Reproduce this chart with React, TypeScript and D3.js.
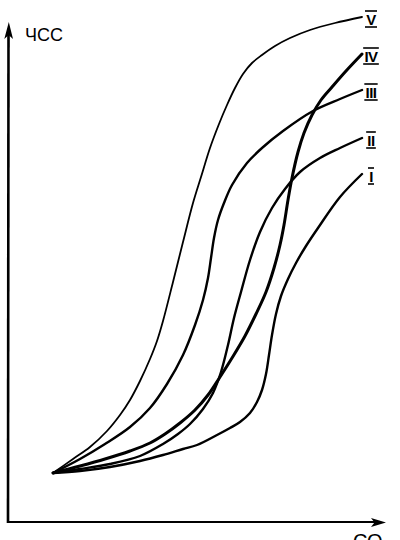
import React, { useEffect, useRef } from 'react';
import * as d3 from 'd3';

const W = 400;
const H = 540;

// Curves (arbitrary units: CO on x, ЧСС on y)
const curveI: [number, number][] = [
  [11.25, 9.8], [18, 10.2], [25.5, 11.0], [33, 12.2], [38.75, 13.4], [43.75, 14.6],
  [47.25, 15.4], [52.25, 17.4], [55.5, 18.8], [58, 20.0], [60.5, 21.8], [62.25, 24.0],
  [63.5, 26.4], [64.5, 29.6], [65.25, 33.4], [66, 37.4], [67, 41.6], [68.25, 45.2],
  [70, 48.6], [72, 51.8], [74.5, 55.2], [77.5, 58.8], [83, 65.0], [88.5, 69.6],
];
const curveII: [number, number][] = [
  [11.25, 9.8], [18, 10.6], [25.5, 11.6], [33, 13.2], [38.75, 15.6], [42.5, 17.6],
  [45.5, 19.6], [48.75, 22.6], [51.25, 25.8], [53.25, 30.0], [55, 35.4], [56.5, 40.8],
  [58.25, 46.0], [60.5, 52.4], [63, 58.0], [66, 62.8], [69.25, 66.6], [73, 70.0],
  [78, 72.8], [83, 74.8], [88.5, 76.8],
];
const curveIII: [number, number][] = [
  [11.25, 9.8], [18, 12.6], [24.25, 15.6], [30.5, 19.0], [35.5, 22.8], [39.75, 27.6],
  [43.75, 33.4], [46.75, 39.4], [48.75, 44.4], [50, 48.8], [50.75, 52.8], [51.5, 56.8],
  [52.5, 60.4], [54, 63.8], [56, 67.4], [59.75, 71.8], [63.5, 74.8], [68.75, 78.2],
  [76.25, 82.2], [83, 84.6], [88.5, 86.4],
];
const curveIV: [number, number][] = [
  [11.25, 9.8], [18, 11.2], [24.25, 12.6], [30.5, 14.2], [35.5, 15.8], [39.25, 17.6],
  [43, 19.8], [46.75, 22.4], [50, 25.4], [53, 29.0], [56, 32.8], [59.25, 37.2],
  [62, 41.6], [64.5, 46.0], [66.5, 50.8], [68, 55.4], [69, 59.4], [70, 64.4],
  [71, 68.8], [72.5, 74.0], [74, 77.8], [76, 81.4], [78.25, 84.4], [81, 87.0],
  [84.5, 90.2], [88.5, 93.6],
];
const curveV: [number, number][] = [
  [11.25, 9.8], [16.25, 12.6], [20.5, 15.0], [24.75, 18.2], [28, 21.4], [30.5, 24.4],
  [33, 28.2], [35.5, 32.6], [37.25, 36.2], [38.75, 40.2], [41.25, 48.0], [43.75, 56.0],
  [46.25, 63.8], [48.25, 69.0], [50.5, 74.8], [52.75, 79.6], [54.75, 83.4], [56.75, 86.8],
  [58.75, 89.6], [61, 91.8], [63.5, 93.4], [66.75, 95.2], [70.5, 96.8], [75.5, 98.4],
  [81.75, 99.8], [88.5, 101.0],
];

const seriesNames = ['I', 'II', 'III', 'IV', 'V'];
const seriesData = [curveI, curveII, curveIII, curveIV, curveV];
const seriesWidths = [2.4, 2.4, 2.4, 3.0, 1.8];
const yAxisTitle = 'ЧСС';
const xAxisTitle = 'СО';

export default function App() {
  const ref = useRef<SVGSVGElement>(null);

  useEffect(() => {
    const svg = d3.select(ref.current);
    svg.selectAll('*').remove();

    const x = d3.scaleLinear().domain([0, 100]).range([8, 408]);
    const y = d3.scaleLinear().domain([0, 100]).range([522, 22]);

    svg.append('rect').attr('width', W).attr('height', H).attr('fill', '#fff');

    // axes
    svg.append('line')
      .attr('x1', x(0)).attr('y1', y(0) + 1)
      .attr('x2', x(0) + 0.5).attr('y2', 32)
      .attr('stroke', '#000').attr('stroke-width', 2.6);
    svg.append('path')
      .attr('d', 'M8.8,22 L4.3,39 L8.6,35 L13,39 Z')
      .attr('fill', '#000');
    svg.append('line')
      .attr('x1', x(0) - 1).attr('y1', y(0))
      .attr('x2', 376).attr('y2', y(0))
      .attr('stroke', '#000').attr('stroke-width', 2.2);
    svg.append('path')
      .attr('d', 'M386,522.5 L371,518 L374.5,522.5 L371,527 Z')
      .attr('fill', '#000');

    svg.append('text')
      .attr('x', 25).attr('y', 41)
      .attr('font-family', 'Liberation Sans, Arial, sans-serif')
      .attr('font-size', 18)
      .attr('fill', '#000')
      .text(yAxisTitle);
    svg.append('text')
      .attr('x', 353).attr('y', 548)
      .attr('font-family', 'Liberation Sans, Arial, sans-serif')
      .attr('font-size', 20)
      .attr('fill', '#000')
      .text(xAxisTitle);

    const line = d3.line<[number, number]>()
      .x((d) => x(d[0]))
      .y((d) => y(d[1]))
      .curve(d3.curveCatmullRom.alpha(0.5));

    seriesData.forEach((data, i) => {
      svg.append('path')
        .attr('d', line(data) as string)
        .attr('fill', 'none')
        .attr('stroke', '#000')
        .attr('stroke-width', seriesWidths[i])
        .attr('stroke-linecap', 'round')
        .attr('stroke-linejoin', 'round');

      const last = data[data.length - 1];
      const cx = 371;
      const cy = y(last[1]) + 2;
      const t = svg.append('text')
        .attr('x', cx).attr('y', cy + 5.5)
        .attr('text-anchor', 'middle')
        .attr('font-family', 'Liberation Sans, Arial, sans-serif')
        .attr('font-weight', 'bold')
        .attr('font-size', 15)
        .attr('letter-spacing', -0.5)
        .attr('fill', '#000')
        .text(seriesNames[i]);
      const bb = (t.node() as SVGTextElement).getBBox();
      const hw = bb.width / 2 + 1;
      [cy - 8, cy + 8].forEach((by) => {
        svg.append('line')
          .attr('x1', cx - hw).attr('x2', cx + hw)
          .attr('y1', by).attr('y2', by)
          .attr('stroke', '#000').attr('stroke-width', 1.6);
      });
    });
  }, []);

  return (
    <svg
      ref={ref}
      width={W}
      height={H}
      style={{ position: 'absolute', left: 0, top: 0, display: 'block' }}
    />
  );
}
